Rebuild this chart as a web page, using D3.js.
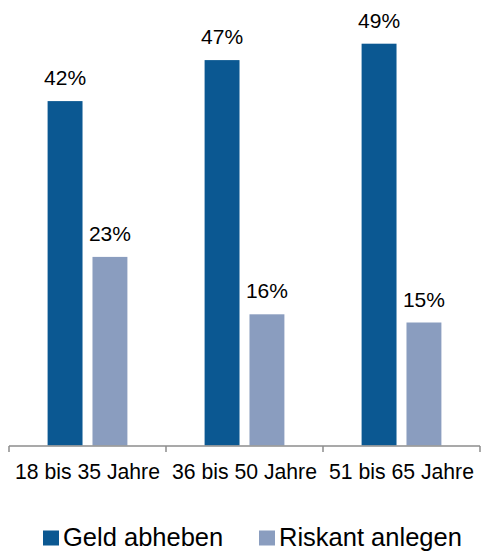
<!DOCTYPE html>
<html>
<head>
<meta charset="utf-8">
<script src="https://cdn.jsdelivr.net/npm/d3@7"></script>
<style>
  html, body { margin: 0; padding: 0; background: #ffffff; }
  svg { display: block; }
  text { font-family: "Liberation Sans", Arial, sans-serif; fill: #000; }
</style>
</head>
<body>
<svg id="chart" width="481" height="552"></svg>
<script>
// Age groups on the x axis
const categories = ["18 bis 35 Jahre", "36 bis 50 Jahre", "51 bis 65 Jahre"];
// Series names and their values (percent)
const seriesNames = ["Geld abheben", "Riskant anlegen"];
const geldAbheben = [42, 47, 49];
const riskantAnlegen = [23, 16, 15];
const seriesValues = [geldAbheben, riskantAnlegen];
const seriesColors = ["#0b5892", "#8a9dbf"];

const svg = d3.select("#chart");

const baseline = 445.5;
const x = d3.scaleBand().domain(categories).range([9, 480]).padding(0);
const xSub = d3.scaleBand().domain(seriesNames)
  .range([0, x.bandwidth()])
  .paddingInner(0.222)
  .paddingOuter(0.86);
const y = d3.scaleLinear().domain([0, 50]).range([baseline, baseline - 410]);

// Bars and value labels
seriesNames.forEach((name, si) => {
  const g = svg.append("g");
  const data = categories.map((c, i) => ({ c, v: seriesValues[si][i] }));
  g.selectAll("rect").data(data).join("rect")
    .attr("x", d => x(d.c) + xSub(name))
    .attr("y", d => y(d.v))
    .attr("width", xSub.bandwidth())
    .attr("height", d => y(0) - y(d.v))
    .attr("fill", seriesColors[si]);
  g.selectAll("text").data(data).join("text")
    .attr("x", d => x(d.c) + xSub(name) + xSub.bandwidth() / 2)
    .attr("y", d => y(d.v) - 16)
    .attr("text-anchor", "middle")
    .attr("font-size", 21)
    .text(d => d.v + "%");
});

// Category axis: baseline with tick marks at band boundaries
const axisG = svg.append("g");
axisG.append("line")
  .attr("x1", x.range()[0]).attr("x2", x.range()[1])
  .attr("y1", 446).attr("y2", 446)
  .attr("stroke", "#8c8c8c").attr("stroke-width", 1.5);
const boundaries = categories.map(c => x(c)).concat([x.range()[1]]);
axisG.selectAll("line.tick").data(boundaries).join("line")
  .attr("class", "tick")
  .attr("x1", d => d).attr("x2", d => d)
  .attr("y1", 446).attr("y2", 452)
  .attr("stroke", "#8c8c8c").attr("stroke-width", 1.5);
axisG.selectAll("text").data(categories).join("text")
  .attr("x", d => x(d) + x.bandwidth() / 2)
  .attr("y", 478.5)
  .attr("text-anchor", "middle")
  .attr("font-size", 21.2)
  .text(d => d);

// Legend
const legendX = [43, 259];
const legend = svg.append("g");
seriesNames.forEach((name, si) => {
  legend.append("rect")
    .attr("x", legendX[si]).attr("y", 530.5)
    .attr("width", 16).attr("height", 15)
    .attr("fill", seriesColors[si]);
  legend.append("text")
    .attr("x", legendX[si] + 20).attr("y", 545.5)
    .attr("font-size", 25.5)
    .text(name);
});
</script>
</body>
</html>
